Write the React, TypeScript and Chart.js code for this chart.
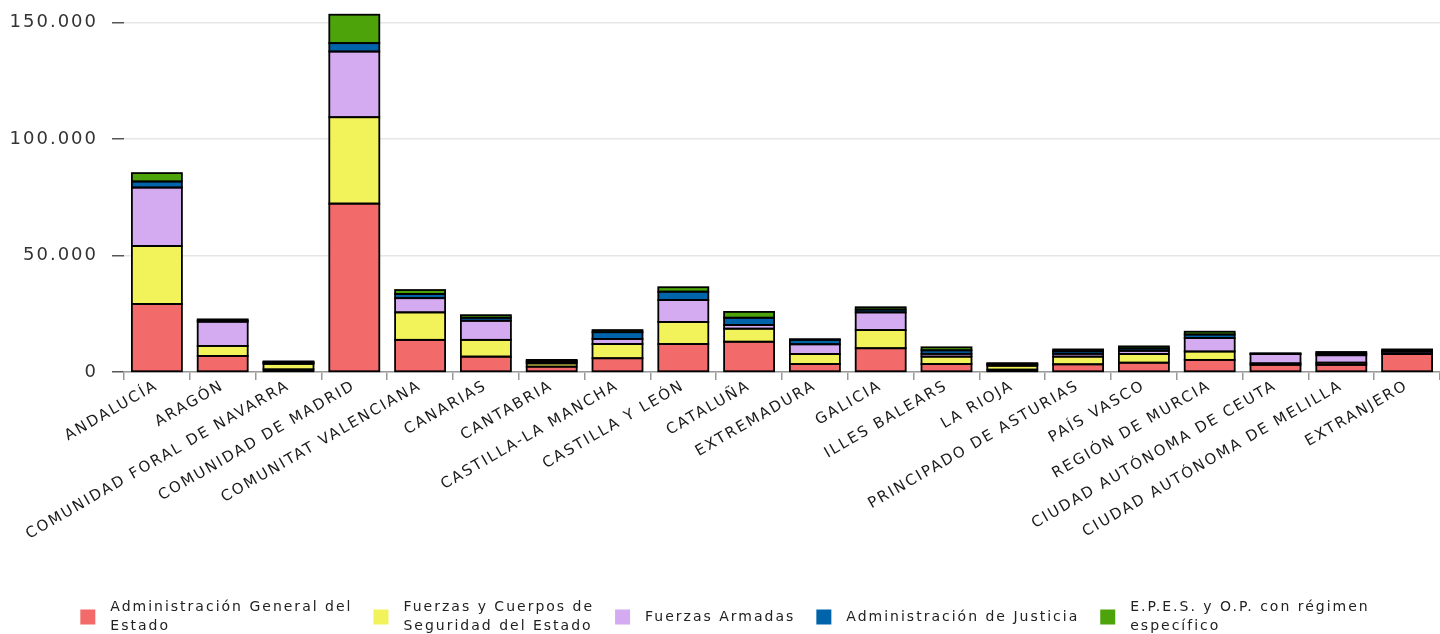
import React, { useEffect, useRef } from 'react';
import { Chart, registerables } from 'chart.js';

Chart.register(...registerables);

const categories = [
  'ANDALUCÍA',
  'ARAGÓN',
  'COMUNIDAD FORAL DE NAVARRA',
  'COMUNIDAD DE MADRID',
  'COMUNITAT VALENCIANA',
  'CANARIAS',
  'CANTABRIA',
  'CASTILLA-LA MANCHA',
  'CASTILLA Y LEÓN',
  'CATALUÑA',
  'EXTREMADURA',
  'GALICIA',
  'ILLES BALEARS',
  'LA RIOJA',
  'PRINCIPADO DE ASTURIAS',
  'PAÍS VASCO',
  'REGIÓN DE MURCIA',
  'CIUDAD AUTÓNOMA DE CEUTA',
  'CIUDAD AUTÓNOMA DE MELILLA',
  'EXTRANJERO',
];

const administracionGeneral = [29200, 6900, 1100, 72300, 13800, 6600, 2300, 5900, 12000, 13000, 3400, 10200, 3400, 1000, 3300, 4000, 5200, 3100, 3100, 7700];
const fuerzasCuerpos = [24900, 4300, 2400, 37100, 11800, 7200, 1400, 6100, 9500, 5600, 4300, 7800, 3200, 1700, 3300, 3700, 3600, 600, 900, 300];
const fuerzasArmadas = [25100, 10400, 400, 28200, 6100, 8200, 600, 2200, 9400, 1600, 4200, 7600, 1200, 500, 1200, 1400, 5800, 4000, 3200, 900];
const administracionJusticia = [2600, 500, 300, 3600, 1800, 1300, 500, 2900, 3600, 3100, 1900, 1200, 1500, 300, 1100, 1000, 1500, 200, 800, 300];
const epes = [3600, 500, 350, 12200, 1700, 1100, 400, 900, 1900, 2500, 300, 1000, 1300, 300, 800, 900, 1200, 100, 600, 500];

const legendLabels = [
  ['Administración General del', 'Estado'],
  ['Fuerzas y Cuerpos de', 'Seguridad del Estado'],
  ['Fuerzas Armadas'],
  ['Administración de Justicia'],
  ['E.P.E.S. y O.P. con régimen', 'específico'],
];

const seriesColors = ['#f26a6a', '#f2f25a', '#d4aaf0', '#0064aa', '#4ca40a'];

const yTicks = [0, 50000, 100000, 150000];

const formatThousands = (v: number) => String(v).replace(/\B(?=(\d{3})+(?!\d))/g, '.');

const spacingPlugin = {
  id: 'letterSpacing',
  beforeUpdate(chart: any) {
    chart.ctx.letterSpacing = '2px';
  },
  beforeDraw(chart: any) {
    chart.ctx.letterSpacing = '2px';
  },
  resize(chart: any) {
    chart.ctx.letterSpacing = '2px';
  },
};

const outlinePlugin = {
  id: 'barOutline',
  afterDatasetsDraw(chart: any) {
    const ctx = chart.ctx as CanvasRenderingContext2D;
    ctx.save();
    ctx.strokeStyle = '#000';
    ctx.lineWidth = 1.8;
    chart.data.datasets.forEach((_ds: any, i: number) => {
      const meta = chart.getDatasetMeta(i);
      meta.data.forEach((bar: any) => {
        const { x, y, base, width } = bar.getProps(['x', 'y', 'base', 'width'], true);
        const top = Math.min(y, base);
        const h = Math.abs(base - y);
        if (!(h > 0)) return;
        ctx.strokeRect(x - width / 2, top, width, h);
      });
    });
    ctx.restore();
  },
};

const legendPlugin = {
  id: 'customLegend',
  afterDraw(chart: any) {
    const ctx = chart.ctx as CanvasRenderingContext2D;
    ctx.save();
    ctx.font = '14px "DejaVu Sans"';
    (ctx as any).letterSpacing = '2px';
    ctx.textBaseline = 'middle';
    ctx.textAlign = 'left';
    const box = 15;
    const gapText = 15;
    const gapItems = 21;
    const widths = legendLabels.map((lines) => Math.max(...lines.map((l) => ctx.measureText(l).width)));
    const total = widths.reduce((a, w) => a + box + gapText + w, 0) + gapItems * (legendLabels.length - 1);
    let x = (chart.width - total) / 2 + 5;
    const cy = chart.height - 17;
    legendLabels.forEach((lines, i) => {
      ctx.fillStyle = seriesColors[i];
      ctx.fillRect(x, cy - box / 2, box, box);
      ctx.fillStyle = '#222';
      const tx = x + box + gapText;
      if (lines.length === 1) {
        ctx.fillText(lines[0], tx, cy);
      } else {
        ctx.fillText(lines[0], tx, cy - 9.5);
        ctx.fillText(lines[1], tx, cy + 9.5);
      }
      x += box + gapText + widths[i] + gapItems;
    });
    ctx.restore();
  },
};

export default function App() {
  const canvasRef = useRef<HTMLCanvasElement | null>(null);

  useEffect(() => {
    if (!canvasRef.current) return;
    const seriesData = [administracionGeneral, fuerzasCuerpos, fuerzasArmadas, administracionJusticia, epes];
    const datasets = seriesData.map((data, i) => ({
      label: legendLabels[i].join(' '),
      data,
      backgroundColor: seriesColors[i],
      borderWidth: 0,
      categoryPercentage: 1,
      barPercentage: 0.76,
    }));

    const chart = new Chart(canvasRef.current, {
      type: 'bar',
      data: { labels: categories, datasets },
      plugins: [spacingPlugin, outlinePlugin, legendPlugin],
      options: {
        animation: false,
        responsive: true,
        maintainAspectRatio: false,
        layout: { padding: { top: 11, bottom: 62, left: 0, right: 0 } },
        plugins: {
          legend: { display: false },
          tooltip: { enabled: false },
        },
        scales: {
          x: {
            stacked: true,
            border: { display: true, color: '#999', width: 1.5 },
            grid: {
              display: true,
              drawOnChartArea: false,
              offset: true,
              tickLength: 8,
              tickColor: '#999',
              lineWidth: 1.5,
            },
            ticks: {
              autoSkip: false,
              maxRotation: 30,
              minRotation: 30,
              padding: -3,
              color: '#1a1a1a',
              font: { family: 'DejaVu Sans', size: 15 },
            },
            afterFit: (s: any) => {
              s.height = 200;
            },
          },
          y: {
            stacked: true,
            min: 0,
            max: 155000,
            border: { display: false },
            grid: {
              color: '#e6e6e6',
              lineWidth: 1.5,
              tickColor: '#555',
              tickLength: 12,
            },
            afterBuildTicks: (s: any) => {
              s.ticks = yTicks.map((v) => ({ value: v }));
            },
            ticks: {
              padding: 14,
              color: '#333',
              font: { family: 'DejaVu Sans', size: 18 },
              callback: (v: any) => formatThousands(Number(v)),
            },
            afterFit: (s: any) => {
              s.width = 124;
              s.paddingTop = 0;
              s.paddingBottom = 0;
            },
          },
        },
      },
    });
    return () => chart.destroy();
  }, []);

  return (
    <div style={{ position: 'fixed', left: 0, top: 0, width: 1440, height: 634, background: '#fff' }}>
      <canvas ref={canvasRef} />
    </div>
  );
}
